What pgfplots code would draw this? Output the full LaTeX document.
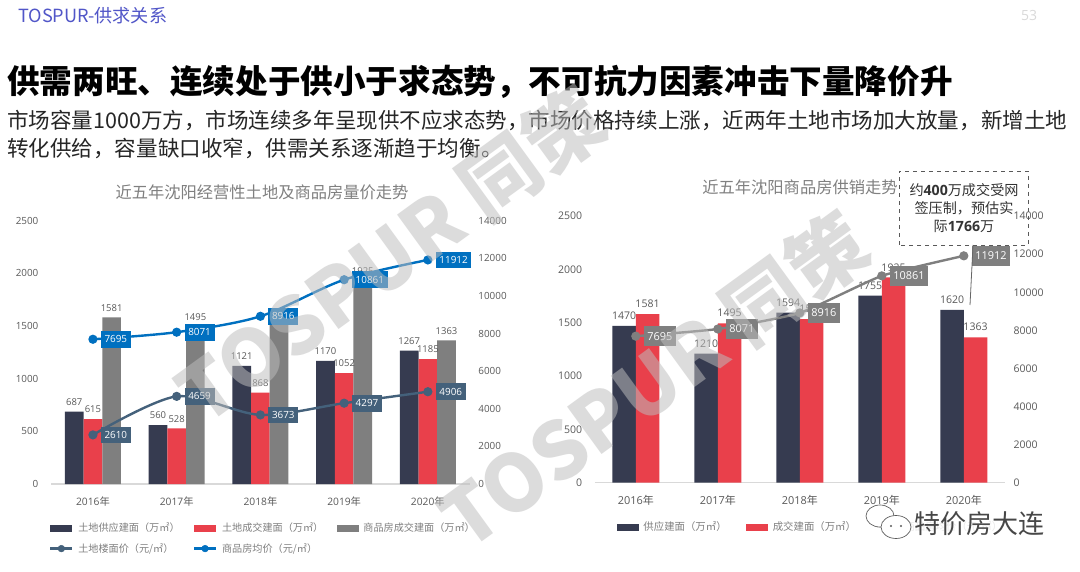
\documentclass[border=0pt]{standalone}
\usepackage{fontspec}
\usepackage{pgfplots}
\pgfplotsset{compat=1.18}
\setmainfont{Noto Sans CJK SC}
\newfontfamily\numf{Open Sans}
\newcommand{\fs}[1]{\fontsize{#1}{#1}\selectfont}
\definecolor{cdark}{HTML}{363B50}
\definecolor{cred}{HTML}{E9404B}
\definecolor{cgray}{HTML}{7F7F7F}
\definecolor{cblue}{HTML}{0070C0}
\definecolor{csteel}{HTML}{44617B}
\definecolor{ctick}{HTML}{595959}
\definecolor{ctitle}{HTML}{808080}
\definecolor{cwm}{HTML}{BDBDBD}
\definecolor{chead}{HTML}{5156C8}
\pgfplotsset{
  barleg/.style={legend image code/.code={\fill[##1] (0pt,-2.6pt) rectangle (16.5pt,2.6pt);}},
  lineleg/.style={legend image code/.code={\draw[##1,line width=1.8pt] (0pt,0pt) -- (16.5pt,0pt);\fill[##1] (8.2pt,0pt) circle (2.5pt);}},
  common/.style={
    scale only axis, clip=false, xmin=-0.5, xmax=4.5,
    tick style={draw=none}, major tick length=0pt,
    scaled y ticks=false,
    /pgf/number format/.cd, fixed, precision=0, 1000 sep={}, assume math mode=true, /pgfplots/.cd
  },
  tagstyle/.style n args={3}{
    nodes near coords, every node near coord/.style={
      anchor=west, xshift=5pt, yshift=0pt, fill=#1, text=white, font=\numf\fs{#2},
      inner xsep=2.8pt, inner ysep=0pt, minimum height=#3}
  }
}
\begin{document}
\begin{tikzpicture}
\path[use as bounding box, fill=white] (0pt,0pt) rectangle (810pt,428.25pt);
\begin{scope}[x=0.75pt,y=0.75pt]
% header
\node[anchor=west,inner sep=0pt,text=chead,font=\fs{13.6}] at (18,555) {TOSPUR-供求关系};
\node[anchor=center,text=black!15,font=\numf\fs{10.5}] at (1029,555) {53};
\node[anchor=west,inner sep=0pt,font=\bfseries\fs{24.45}] at (7,489) {供需两旺、连续处于供小于求态势，不可抗力因素冲击下量降价升};
\node[anchor=west,inner sep=0pt,text=black!85,font=\fs{16.15}] at (7,450) {市场容量1000万方，市场连续多年呈现供不应求态势，市场价格持续上涨，近两年土地市场加大放量，新增土地};
\node[anchor=west,inner sep=0pt,text=black!85,font=\fs{16.15}] at (7,423) {转化供给，容量缺口收窄，供需关系逐渐趋于均衡。};
\node[text=ctitle,font=\fs{12.2}] at (262,379) {近五年沈阳经营性土地及商品房量价走势};
\node[text=ctitle,font=\fs{12.2}] at (800,384) {近五年沈阳商品房供销走势};
\end{scope}

% LEFT bars
\begin{axis}[common, at={(38.3pt,65.25pt)}, anchor=south west, width=314pt, height=197.5pt,
  ymin=0, ymax=2500, ytick={0,500,1000,1500,2000,2500},
  xtick={0,1,2,3,4}, xticklabels={{\numf 2016}年,{\numf 2017}年,{\numf 2018}年,{\numf 2019}年,{\numf 2020}年},
  axis x line*=bottom, axis y line*=left, y axis line style={draw=none},
  x axis line style={draw=black!15,line width=0.8pt,-},
  ticklabel style={text=ctick}, 
  yticklabel style={font=\numf\fs{7.4},xshift=-6pt}, xticklabel style={font=\fs{7.7},yshift=-6pt},
  ybar=0pt, bar width=14pt,
  nodes near coords, every node near coord/.append style={font=\numf\fs{7.1},text=ctick,inner sep=2pt,yshift=2.5pt},
  legend columns=3,
  legend style={at={(-0.005,-0.137)},anchor=north west,draw=none,fill=none,font=\fs{7.6},text=ctitle,row sep=3pt,inner sep=0pt,
    /tikz/every odd column/.style={column sep=1.5pt}},
  legend cell align=left]
\addplot[fill=cdark,draw=none,barleg] coordinates {(0,687)(1,560)(2,1121)(3,1170)(4,1267)};
\addlegendentry{\makebox[84pt][l]{土地供应建面（万㎡）}}
\addplot[fill=cred,draw=none,barleg] coordinates {(0,615)(1,528)(2,868)(3,1052)(4,1185)};
\addlegendentry{\makebox[84pt][l]{土地成交建面（万㎡）}}
\addplot[fill=cgray,draw=none,barleg] coordinates {(0,1581)(1,1495)(2,1533)(3,1925)(4,1363)};
\addlegendentry{商品房成交建面（万㎡）}
\addlegendimage{csteel,lineleg}
\addlegendentry{\makebox[84pt][l]{土地楼面价（元/㎡）}}
\addlegendimage{cblue,lineleg}
\addlegendentry{商品房均价（元/㎡）}
\end{axis}
% LEFT lines
\begin{axis}[common, at={(38.3pt,65.25pt)}, anchor=south west, width=314pt, height=197.5pt,
  ymin=0, ymax=14000, ytick={0,2000,4000,6000,8000,10000,12000,14000},
  axis x line=none, axis y line*=right, y axis line style={draw=none},
  ticklabel style={text=ctick}, yticklabel style={font=\numf\fs{7.4},xshift=3pt}]
\addplot[csteel,line width=1.8pt,smooth,tension=0.5,mark=*,mark size=2.5pt,mark options={fill=csteel,draw=csteel},tagstyle={csteel}{7.4}{12.5pt}] coordinates {(0,2610)(1,4659)(2,3673)(3,4297)(4,4906)};
\addplot[cblue,line width=1.8pt,smooth,tension=0.5,mark=*,mark size=2.5pt,mark options={fill=cblue,draw=cblue},tagstyle={cblue}{7.4}{12.5pt}] coordinates {(0,7695)(1,8071)(2,8916)(3,10861)(4,11912)};
\end{axis}

% RIGHT bars
\begin{axis}[common, at={(446.1pt,66.2pt)}, anchor=south west, width=307.5pt, height=200pt,
  ymin=0, ymax=2500, ytick={0,500,1000,1500,2000,2500},
  xtick={0,1,2,3,4}, xticklabels={{\numf 2016}年,{\numf 2017}年,{\numf 2018}年,{\numf 2019}年,{\numf 2020}年},
  axis x line*=bottom, axis y line*=left, y axis line style={draw=none},
  x axis line style={draw=black!15,line width=0.8pt,-},
  ticklabel style={text=ctick},
  yticklabel style={font=\numf\fs{7.9},xshift=-6pt}, xticklabel style={font=\fs{8.2},yshift=-6pt},
  ybar=0pt, bar width=17.6pt,
  nodes near coords, every node near coord/.append style={font=\numf\fs{7.9},text=ctick,inner sep=2pt,yshift=2.5pt},
  legend columns=3,
  legend style={at={(0.053,-0.135)},anchor=north west,draw=none,fill=none,font=\fs{7.8},text=ctitle,inner sep=0pt,
    /tikz/every odd column/.style={column sep=1.5pt}},
  legend cell align=left]
\addplot[fill=cdark,draw=none,barleg] coordinates {(0,1470)(1,1210)(2,1594)(3,1755)(4,1620)};
\addlegendentry{\makebox[75pt][l]{供应建面（万㎡）}}
\addplot[fill=cred,draw=none,barleg] coordinates {(0,1581)(1,1495)(2,1533)(3,1925)(4,1363)};
\addlegendentry{\makebox[75pt][l]{成交建面（万㎡）}}
\addlegendimage{cgray,lineleg}
\addlegendentry{商品房均价（元/㎡）}
\end{axis}
% RIGHT line
\begin{axis}[common, at={(446.1pt,66.2pt)}, anchor=south west, width=307.5pt, height=200pt,
  ymin=0, ymax=14000, ytick={0,2000,4000,6000,8000,10000,12000,14000},
  axis x line=none, axis y line*=right, y axis line style={draw=none},
  ticklabel style={text=ctick}, yticklabel style={font=\numf\fs{7.9},xshift=3pt}]
\addplot[cgray,line width=1.8pt,smooth,tension=0.3,mark=*,mark size=2.5pt,mark options={fill=cgray,draw=cgray},tagstyle={cgray}{8.2}{15pt}] coordinates {(0,7695)(1,8071)(2,8916)(3,10861)(4,11912)};
\end{axis}

\begin{scope}[x=0.75pt,y=0.75pt]
% watermarks
\node[rotate=36,text=cwm,opacity=0.53,font=\bfseries\fs{59}] at (391,316) {TOSPUR 同策};
\node[rotate=36,text=cwm,opacity=0.53,font=\bfseries\fs{59}] at (654,191) {TOSPUR 同策};

% callout
\draw[black!60,line width=0.6pt] (973,326) -- (970,266);
\draw[black!65,dashed,line width=0.6pt] (899,326) rectangle (1028,400);
\node[text=black!80,font=\fs{10.6},align=center,inner sep=0pt] at (964,363) {约\textbf{\numf 400}万成交受网\\[2.6pt]签压制，预估实\\[2.6pt]际\textbf{\numf 1766}万};

% bottom-right signature
\fill[white,opacity=0.82] (868,30) rectangle (1050,64);
\draw[black!65,fill=white,line width=0.5pt] (880,55) ellipse (14 and 11);
\draw[black!65,fill=white,line width=0.5pt] (896,44) ellipse (15 and 11.5);
\fill[black!65] (891,45) circle (1.2) (901,45) circle (1.2);
\node[anchor=west,inner sep=0pt,text=black!72,font=\fs{19.5}] at (914,47) {特价房大连};
\end{scope}
\end{tikzpicture}
\end{document}
